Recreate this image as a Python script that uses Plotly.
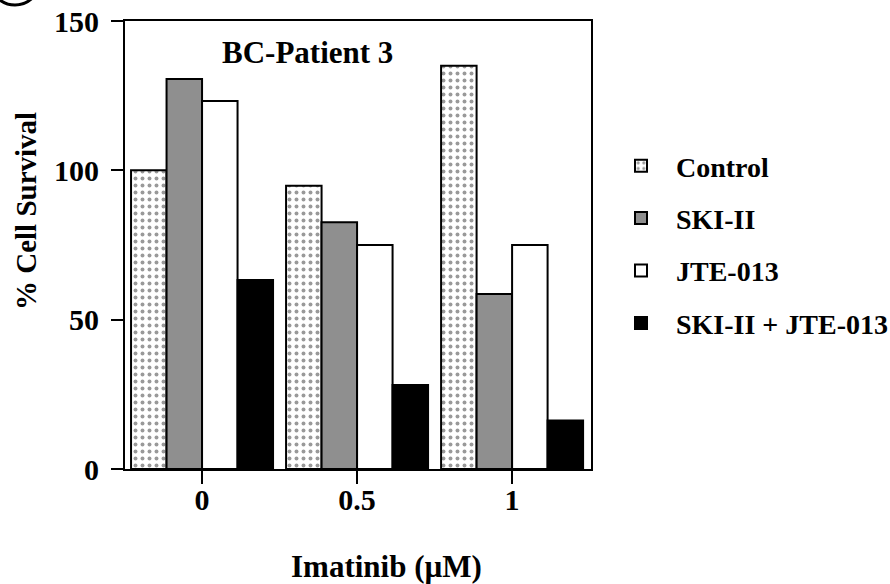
import plotly.graph_objects as go

# ---- data ----
imatinib = ["0", "0.5", "1"]
series_names = ["Control", "SKI-II", "JTE-013", "SKI-II + JTE-013"]
control = [100, 94.8, 135]
ski_ii = [130.6, 82.6, 58.6]
jte_013 = [123.2, 75, 75]
ski_jte = [63.3, 28.1, 16.2]
y_ticks = [0, 50, 100, 150]

series_values = [control, ski_ii, jte_013, ski_jte]

# ---- styles ----
FAMILY = "Liberation Serif, Times New Roman, serif"
FONT = dict(family=FAMILY, size=29, color="black", weight="bold")
fills = ["white", "#8f8f8f", "white", "black"]
patterns = [dict(shape=".", fgcolor="#333333", bgcolor="white", size=7, solidity=0.25),
            None, None, None]

fig = go.Figure()
for i, (name, vals) in enumerate(zip(series_names, series_values)):
    marker = dict(color=fills[i], line=dict(color="black", width=2))
    if patterns[i] is not None:
        marker["pattern"] = patterns[i]
    fig.add_trace(go.Bar(x=imatinib, y=vals, name=name, marker=marker,
                         legendgroup=name))

W, H = 890, 584
L, R, T, B = 125, 299, 21, 115
pw, ph = W - L - R, H - T - B


def px(x):
    return (x - L) / pw


def py(y):
    return (H - B - y) / ph


fig.update_layout(
    width=W, height=H,
    margin=dict(l=L, r=R, t=T, b=B, pad=0, autoexpand=False),
    paper_bgcolor="white", plot_bgcolor="white",
    barmode="group", bargap=0.084, bargroupgap=0,
    font=FONT,
    showlegend=True,
    legend=dict(x=px(606), y=py(141), xanchor="left", yanchor="top",
                font=dict(FONT, size=28), tracegroupgap=13,
                bgcolor="rgba(0,0,0,0)", itemwidth=60),
    xaxis=dict(type="category", range=[-0.497, 2.509], automargin=False,
               showline=True, linecolor="black", linewidth=2, mirror=True,
               ticks="outside", ticklen=13, tickwidth=2, tickcolor="black",
               tickfont=dict(FONT, size=30), ticklabelstandoff=-10,
               showgrid=False, zeroline=False),
    yaxis=dict(range=[0, 150], tickvals=y_ticks, automargin=False,
               showline=True, linecolor="black", linewidth=2, mirror=True,
               ticks="outside", ticklen=12, tickwidth=2, tickcolor="black",
               tickfont=dict(FONT, size=30), ticklabelstandoff=6,
               showgrid=False, zeroline=False),
    annotations=[
        dict(text="BC-Patient 3", x=px(307), y=py(53), xref="paper", yref="paper",
             showarrow=False, font=dict(FONT, size=31),
             xanchor="center", yanchor="middle"),
        dict(text="% Cell Survival", x=px(26), y=py(211), xref="paper", yref="paper",
             showarrow=False, font=FONT, textangle=-90,
             xanchor="center", yanchor="middle"),
        dict(text="Imatinib (µM)", x=px(386), y=py(566), xref="paper", yref="paper",
             showarrow=False, font=dict(FONT, size=31),
             xanchor="center", yanchor="middle"),
    ],
    shapes=[
        dict(type="circle", xref="paper", yref="paper",
             x0=px(-10), x1=px(40), y0=py(5), y1=py(-45),
             line=dict(color="black", width=3)),
    ],
)

fig.write_html("out.html", config={"displayModeBar": False},
               post_script="document.body.style.margin='0px';")
